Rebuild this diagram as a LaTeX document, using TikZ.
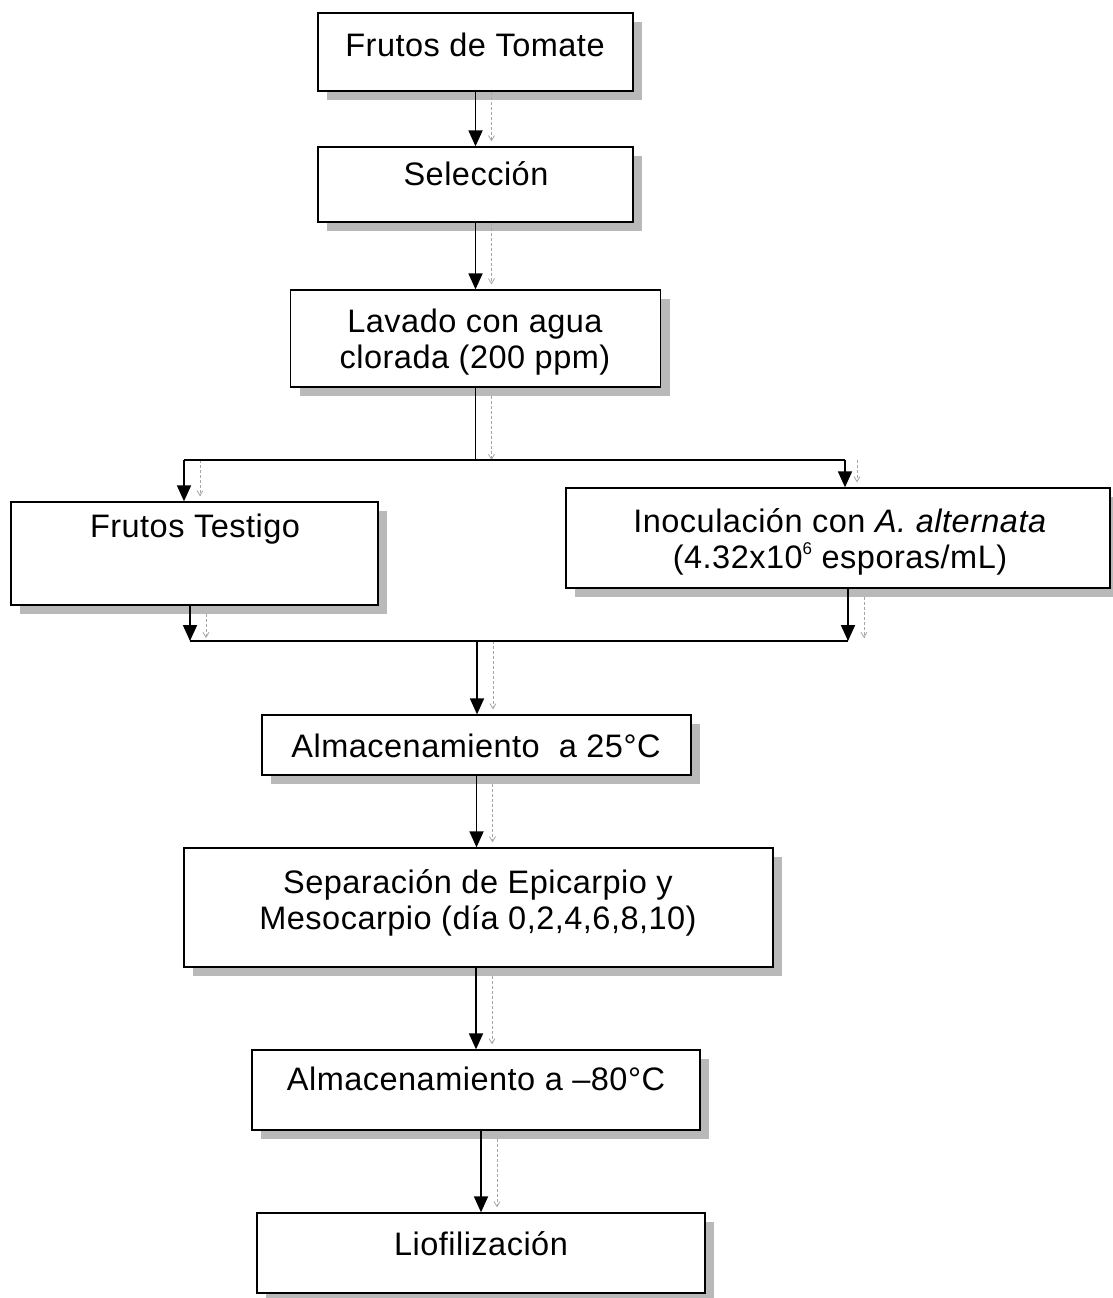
\documentclass[tikz,border=0pt]{standalone}
\usepackage{fontspec}
\setmainfont{Liberation Sans}[LetterSpace=1.5]
\usetikzlibrary{shadows,arrows.meta}
\begin{document}
\begin{tikzpicture}[x=1pt,y=-1pt,
 box/.style={draw=black, line width=1.3pt, fill=white, inner sep=0pt,
   drop shadow={shadow xshift=9pt, shadow yshift=-9pt, fill=gray!55, opacity=1}},
 lbl/.style={font=\fontsize{32.5}{36}\selectfont, align=center, inner sep=0pt},
 arr/.style={line width=1.8pt, -{Triangle[length=16pt,width=14pt]}},
 ln/.style={line width=1.4pt},
 ghost/.style={gray!70, line width=0.8pt, densely dashed, -{Straight Barb[length=5pt,width=6pt]}}
]
\useasboundingbox (0,0) rectangle (1113,1298);

% boxes
\node[box, minimum width=315pt, minimum height=78pt] (b1) at (475.5,52) {};
\node[box, minimum width=315pt, minimum height=75pt] (b2) at (475.5,184.5) {};
\node[box, minimum width=370pt, minimum height=97pt] (b3) at (475.5,338.5) {};
\node[box, minimum width=367pt, minimum height=103pt] (b4) at (194.5,553.5) {};
\node[box, minimum width=544pt, minimum height=100pt] (b5) at (838,538) {};
\node[box, minimum width=429pt, minimum height=60pt] (b6) at (476.5,745) {};
\node[box, minimum width=589pt, minimum height=119pt] (b7) at (478.5,907.5) {};
\node[box, minimum width=448pt, minimum height=80pt] (b8) at (476,1090) {};
\node[box, minimum width=448pt, minimum height=80pt] (b9) at (481,1253) {};

% labels
\node[lbl, anchor=base] (t1) at (475,57) {Frutos de Tomate};
\node[lbl, anchor=base] (t2) at (476,185) {Selección};
\node[lbl] (t3) at (475,342) {Lavado con agua\\clorada (200 ppm)};
\node[lbl, anchor=base] (t4) at (195,537) {Frutos Testigo};
\node[lbl] (t5) at (840,542) {Inoculación con \textit{A. alternata}\\(4.32x10\raisebox{14pt}{\fontsize{17}{17}\selectfont 6} esporas/mL)};
\node[lbl, anchor=base] (t6) at (476,757) {Almacenamiento\ \ a 25°C};
\node[lbl] (t7) at (478,903) {Separación de Epicarpio y\\Mesocarpio (día 0,2,4,6,8,10)};
\node[lbl, anchor=base] (t8) at (476,1090) {Almacenamiento a –80°C};
\node[lbl, anchor=base] (t9) at (481,1255) {Liofilización};

% coordinates
\coordinate (s) at (475.5,460);
\coordinate (sl) at (184,460);
\coordinate (sr) at (845,460);
\coordinate (ml) at (190,641);
\coordinate (mr) at (848,641);
\coordinate (m) at (477,641);

% ghost arrows (scan shadow)
\draw[ghost] ([xshift=16pt]b1.south) -- ([xshift=16pt,yshift=5pt]b2.north);
\draw[ghost] ([xshift=16pt]b2.south) -- ([xshift=16pt,yshift=5pt]b3.north);
\draw[ghost] ([xshift=16pt,yshift=-8pt]b3.south) -- ([xshift=16pt]s);
\draw[ghost] ([xshift=16pt]sl) -- ([xshift=16pt,yshift=5pt]sl |- b4.north);
\draw[ghost] ([xshift=12pt]sr) -- ([xshift=12pt,yshift=5pt]sr |- b5.north);
\draw[ghost] ([xshift=16pt,yshift=-8pt]ml |- b4.south) -- ([xshift=16pt,yshift=3pt]ml);
\draw[ghost] ([xshift=16pt,yshift=-8pt]mr |- b5.south) -- ([xshift=16pt,yshift=3pt]mr);
\draw[ghost] ([xshift=16pt]m) -- ([xshift=16pt,yshift=5pt]m |- b6.north);
\draw[ghost] ([xshift=16pt,yshift=-8pt]b6.south) -- ([xshift=16pt,yshift=5pt]b6.south |- b7.north);
\draw[ghost] ([xshift=16pt,yshift=-8pt]b8.north |- b7.south) -- ([xshift=16pt,yshift=5pt]b8.north);
\draw[ghost] ([xshift=16pt,yshift=-8pt]b9.north |- b8.south) -- ([xshift=16pt,yshift=5pt]b9.north);

% connectors
\draw[arr] (b1.south) -- (b2.north);
\draw[arr] (b2.south) -- (b3.north);
\draw[ln] (b3.south) -- (s);
\draw[ln] (sl) -- (sr);
\draw[arr] (sl) -- (sl |- b4.north);
\draw[arr] (sr) -- (sr |- b5.north);
\draw[arr] (ml |- b4.south) -- (ml);
\draw[arr] (mr |- b5.south) -- (mr);
\draw[ln] (ml) -- (mr);
\draw[arr] (m) -- (m |- b6.north);
\draw[arr] (b6.south) -- (b6.south |- b7.north);
\draw[arr] (b8.north |- b7.south) -- (b8.north);
\draw[arr] (b9.north |- b8.south) -- (b9.north);
\end{tikzpicture}
\end{document}
